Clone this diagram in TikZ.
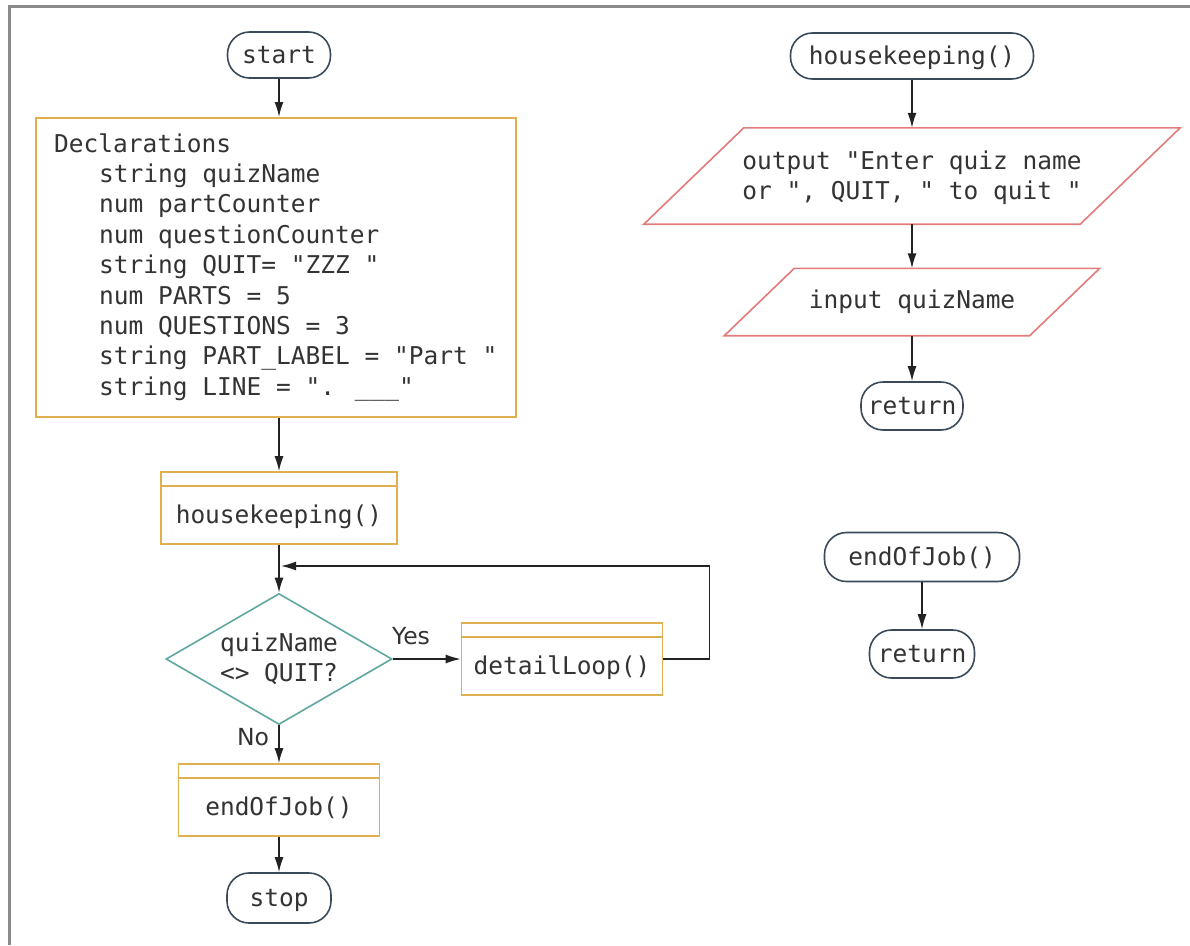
\documentclass[tikz,border=0pt]{standalone}
\usepackage{fontspec}
\newfontfamily\monof[WordSpace={1,0,0}]{DejaVu Sans Mono}
\newfontfamily\sansf{DejaVu Sans}
\usetikzlibrary{shapes.geometric,arrows.meta}
\definecolor{framec}{HTML}{8A8A8A}
\definecolor{termc}{HTML}{3B4A5A}
\definecolor{orangec}{HTML}{E0B050}
\definecolor{redc}{HTML}{E37B7B}
\definecolor{tealc}{HTML}{5FA89E}
\definecolor{txt}{HTML}{333333}
\definecolor{linec}{HTML}{222222}
\begin{document}
\begin{tikzpicture}[x=1pt,y=-1pt,
  mono/.style={font=\monof\fontsize{24.5}{30.4}\selectfont, text=txt},
  term/.style={mono, draw=termc, line width=1.6pt, rounded corners=22pt,
    minimum height=46pt, inner sep=0pt, text height=18pt, text depth=2pt},
  predef/.style={mono, draw=orangec, line width=1.6pt, minimum height=72pt,
    inner sep=0pt, text height=36pt, text depth=6pt},
  declbox/.style={mono, draw=orangec, line width=1.6pt, align=left,
    inner xsep=18pt, inner ysep=0pt, minimum width=480pt, minimum height=299pt},
  decision/.style={mono, diamond, draw=tealc, line width=1.6pt, aspect=1.72,
    minimum width=226pt, minimum height=131pt, inner sep=0pt, align=center},
  io/.style={mono, inner sep=0pt, align=left},
  iopath/.style={draw=redc, line width=1.6pt, line join=miter},
  lbl/.style={font=\sansf\fontsize{23.5}{27}\selectfont, text=txt, inner sep=0pt},
  arr/.style={draw=linec, line width=1.5pt, -{Latex[length=15pt,width=9pt]}},
  band/.style={draw=orangec, line width=1.6pt}
]
\useasboundingbox (0,0) rectangle (1190,945);
\fill[white] (0,0) rectangle (1190,945);
\draw[framec, line width=3pt, line join=miter] (9,945) -- (9,6) -- (1190,6);

% left column
\node[term, minimum width=103pt] (start) at (279,55) {start};
\node[declbox, anchor=north west] (decl) at (35,117) {Declarations\\
\hspace*{45pt}string quizName\\
\hspace*{45pt}num partCounter\\
\hspace*{45pt}num questionCounter\\
\hspace*{45pt}string QUIT= "ZZZ "\\
\hspace*{45pt}num PARTS = 5\\
\hspace*{45pt}num QUESTIONS = 3\\
\hspace*{45pt}string PART\_LABEL = "Part "\\
\hspace*{45pt}string LINE = ". \_\_\_"};
\node[predef, minimum width=236pt] (hk) at (279,508) {housekeeping()};
\draw[band] ([yshift=-15pt]hk.north west) -- ([yshift=-15pt]hk.north east);
\node[decision] (dia) at (279,659) {quizName\\<> QUIT?};
\node[predef, minimum width=201pt] (dl) at (562,659) {detailLoop()};
\draw[band] ([yshift=-15pt]dl.north west) -- ([yshift=-15pt]dl.north east);
\node[predef, minimum width=201pt] (eoj) at (279,800) {endOfJob()};
\draw[band] ([yshift=-15pt]eoj.north west) -- ([yshift=-15pt]eoj.north east);
\node[term, minimum width=104pt, minimum height=50pt] (stop) at (279,898) {stop};
\node[lbl] (yes) at (411,636) {Yes};
\node[lbl] (no) at (253,737) {No};
\coordinate (loopin) at (281,566);

\draw[arr] (start.south) -- (start.south |- decl.north);
\draw[arr] (start.south |- decl.south) -- (hk.north);
\draw[arr] (hk.south) -- (dia.north);
\draw[arr] (dia.east) -- (dl.west);
\draw[arr] (dl.east) -- ++(46,0) |- (loopin);
\draw[arr] (dia.south) -- (eoj.north);
\draw[arr] (eoj.south) -- (stop.north);

% right column
\node[term, minimum width=243pt] (rhk) at (912,56) {housekeeping()};
\node[io, minimum width=436pt, minimum height=96pt] (out) at (912,178)
  {output "Enter quiz name\\or ", QUIT, " to quit "};
\draw[iopath] ([xshift=50pt,yshift=2pt]out.north west) -- ([xshift=50pt,yshift=2pt]out.north east)
  -- ([xshift=-50pt,yshift=2pt]out.south east) -- ([xshift=-50pt,yshift=2pt]out.south west) -- cycle;
\node[io, minimum width=305pt, minimum height=67pt] (inp) at (912,302) {input quizName};
\draw[iopath] ([xshift=35pt]inp.north west) -- ([xshift=35pt]inp.north east)
  -- ([xshift=-35pt]inp.south east) -- ([xshift=-35pt]inp.south west) -- cycle;
\node[term, minimum width=102pt, minimum height=48pt] (ret1) at (912,406) {return};
\node[term, minimum width=195pt, minimum height=49pt] (reoj) at (922,557) {endOfJob()};
\node[term, minimum width=105pt, minimum height=48pt] (ret2) at (922,654) {return};

\draw[arr] (rhk.south) -- ([yshift=2pt]out.north);
\draw[arr] ([yshift=2pt]out.south) -- (inp.north);
\draw[arr] (inp.south) -- (ret1.north);
\draw[arr] (reoj.south) -- (ret2.north);
\end{tikzpicture}
\end{document}
